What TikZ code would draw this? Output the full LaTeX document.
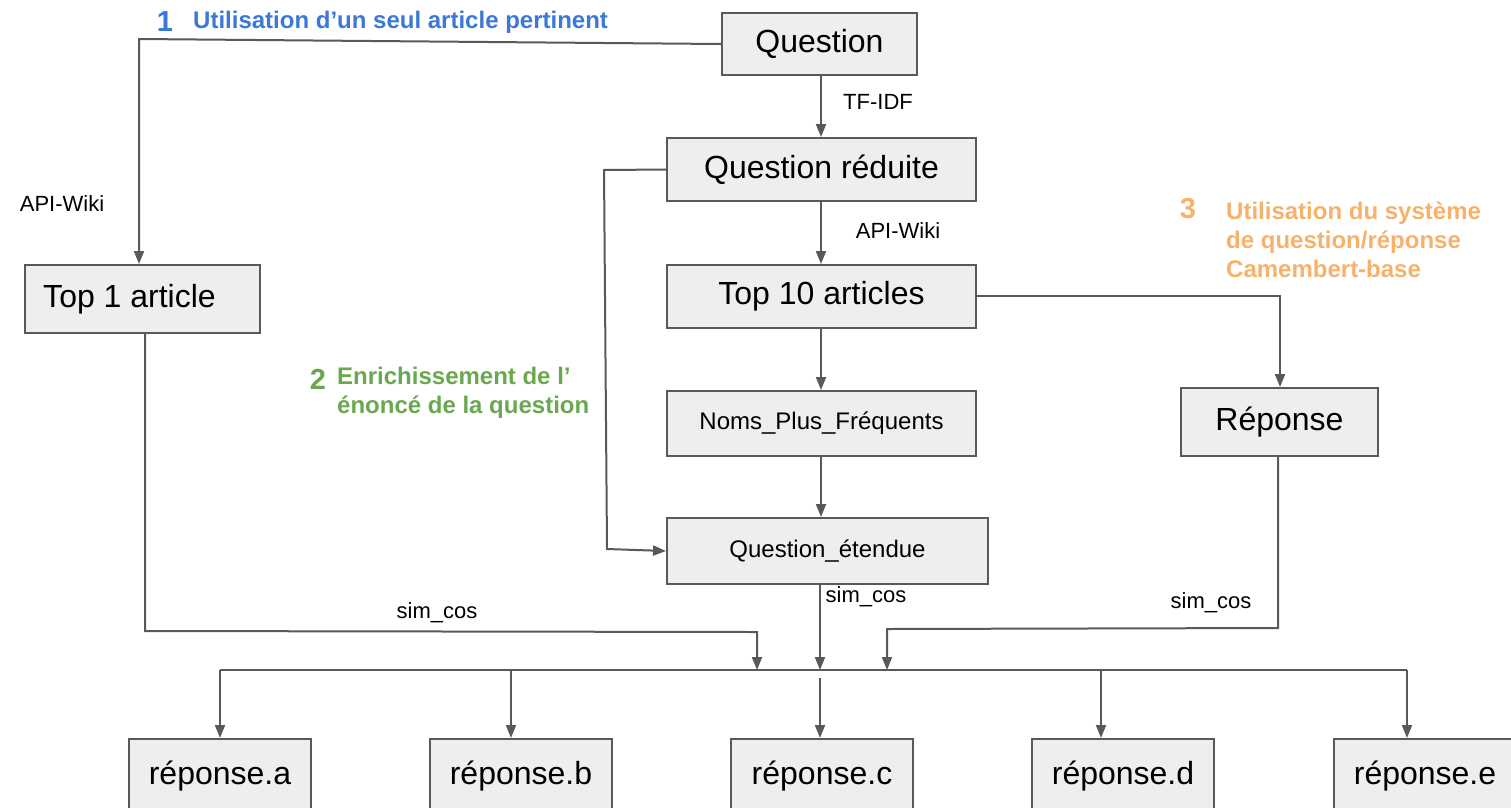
\documentclass[tikz,border=0pt]{standalone}
\usepackage{fontspec}
\setmainfont{Liberation Sans}
\usetikzlibrary{arrows.meta}
\definecolor{linegray}{HTML}{595959}
\definecolor{boxfill}{HTML}{EEEEEE}
\definecolor{cblue}{HTML}{3C78D8}
\definecolor{cgreen}{HTML}{6AA84F}
\definecolor{corange}{HTML}{F6B26B}
\begin{document}
\begin{tikzpicture}[x=1pt,y=-1pt,
 box/.style={draw=linegray, line width=2pt, fill=boxfill, inner sep=0pt, anchor=center},
 big/.style={font=\fontsize{32}{38}\selectfont},
 mid/.style={font=\fontsize{24}{29}\selectfont},
 lab/.style={font=\fontsize{22}{26}\selectfont, inner sep=0pt},
 conn/.style={draw=linegray, line width=2pt},
 arr/.style={conn, -{Triangle[length=13pt,width=10pt]}},
 note/.style={font=\bfseries\fontsize{24}{29}\selectfont, align=left, inner sep=0pt, anchor=west},
 num/.style={font=\bfseries\fontsize{29}{29}\selectfont, inner sep=0pt}
]
\useasboundingbox (0,0) rectangle (1511,807);
\clip (0,0) rectangle (1511,807);

% boxes
\node[box, big, minimum width=195pt, minimum height=62pt] (q) at (819.5,44) {Question};
\node[box, big, minimum width=309pt, minimum height=63pt] (qr) at (821.5,169.5) {Question réduite};
\node[box, big, minimum width=309pt, minimum height=63pt] (t10) at (821.5,296.5) {Top 10 articles};
\node[box, mid, minimum width=309pt, minimum height=65pt] (npf) at (821.5,423.5) {Noms\_Plus\_Fréquents};
\node[box, mid, minimum width=321pt, minimum height=66pt] (qe) at (827.5,551) {Question\_étendue};
\node[box, big, minimum width=197pt, minimum height=68pt] (rep) at (1279.5,422) {Réponse};
\node[box, big, minimum width=235pt, minimum height=68pt] (t1) at (142.5,299) {Top 1 article\kern26pt};
\node[box, big, minimum width=182pt, minimum height=74pt] (ra) at (220,776) {réponse.a};
\node[box, big, minimum width=182pt, minimum height=74pt] (rb) at (521,776) {réponse.b};
\node[box, big, minimum width=182pt, minimum height=74pt] (rc) at (822,776) {réponse.c};
\node[box, big, minimum width=182pt, minimum height=74pt] (rd) at (1123,776) {réponse.d};
\node[box, big, minimum width=182pt, minimum height=74pt] (re) at (1425,776) {réponse.e};

% helper coordinates
\coordinate (c1) at (139,39);
\coordinate (c2) at (604,170);
\coordinate (c3) at (607,549);
\coordinate (c4) at (1280,296);
\coordinate (c5) at (145,631);
\coordinate (c6) at (757,632);
\coordinate (c7) at (1278,628);
\coordinate (c8) at (887,629);
\coordinate (busL) at (220,670);
\coordinate (busR) at (1407,670);
\coordinate (busA) at (757,670);
\coordinate (busC) at (820,670);
\coordinate (busC2) at (820,678);
\coordinate (busE) at (887,670);

% connectors
\draw[arr] (q.west) -- (c1) -- (c1 |- t1.north);
\draw[arr] (q.south -| 821,0) -- (qr.north -| 821,0);
\draw[arr] (qr.south -| 821,0) -- (t10.north -| 821,0);
\draw[arr] (t10.south -| 821,0) -- (npf.north -| 821,0);
\draw[arr] (npf.south -| 821,0) -- (qe.north -| 821,0);
\draw[arr] (qr.west) -- (c2) -- (c3) -- (qe.west);
\draw[arr] (t10.east |- c4) -- (c4) -- (c4 |- rep.north);
\draw[arr] (t1.south -| c5) -- (c5) -- (c6) -- (busA);
\draw[arr] (qe.south -| busC) -- (busC);
\draw[arr] (rep.south -| c7) -- (c7) -- (c8) -- (busE);
\draw[conn] (busL) -- (busR);
\draw[arr] (busL) -- (busL |- ra.north);
\draw[arr] (511,670) -- (511,0 |- rb.north);
\draw[arr] (busC2) -- (busC2 |- rc.north);
\draw[arr] (1101,670) -- (1101,0 |- rd.north);
\draw[arr] (busR) -- (busR |- re.north);

% labels
\node[lab] (l1) at (62,204) {API-Wiki};
\node[lab] (l2) at (878,102) {TF-IDF};
\node[lab] (l3) at (898,231) {API-Wiki};
\node[lab] (l4) at (437,613) {sim\_cos};
\node[lab] (l5) at (866,597) {sim\_cos};
\node[lab] (l6) at (1211,603) {sim\_cos};

% annotations
\node[num, text=cblue] (n1) at (165,22) {1};
\node[note, text=cblue] (t1note) at (193,22) {Utilisation d’un seul article pertinent};
\node[num, text=cgreen] (n2) at (318,379) {2};
\node[note, text=cgreen] (t2note) at (337,392.5) {Enrichissement de l’\\énoncé de la question};
\node[num, text=corange] (n3) at (1188,209) {3};
\node[note, text=corange] (t3note) at (1226,240) {Utilisation du système\\de question/réponse\\Camembert-base};
\end{tikzpicture}
\end{document}
